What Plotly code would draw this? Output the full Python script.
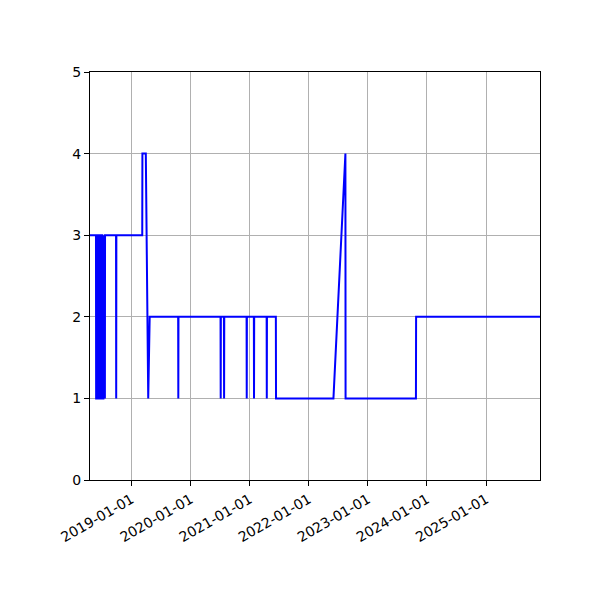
import plotly.graph_objects as go

# readings
dates = [
    "2018-04-19", "2018-05-26", "2018-05-27", "2018-06-02", "2018-06-03",
    "2018-06-08", "2018-06-09", "2018-06-15", "2018-06-16", "2018-06-21",
    "2018-06-22", "2018-06-28", "2018-06-29", "2018-07-04", "2018-07-05",
    "2018-07-11", "2018-07-12", "2018-07-20", "2018-07-21",
    "2018-09-27", "2018-09-28", "2018-09-29",
    "2019-03-08", "2019-03-09", "2019-03-30", "2019-04-14", "2019-04-23",
    "2019-10-16", "2019-10-17", "2019-10-18",
    "2020-07-04", "2020-07-05", "2020-07-06",
    "2020-07-25", "2020-07-26", "2020-07-27",
    "2020-12-12", "2020-12-13", "2020-12-14",
    "2021-01-26", "2021-01-27", "2021-01-28",
    "2021-04-15", "2021-04-16", "2021-04-17",
    "2021-06-11", "2021-06-12",
    "2022-06-02", "2022-08-15", "2022-08-16",
    "2023-10-25", "2023-10-26",
    "2025-11-30",
]
values = [
    3, 3, 1, 1, 3,
    3, 1, 1, 3, 3,
    1, 1, 3, 3, 1,
    1, 3, 1, 3,
    3, 1, 3,
    3, 4, 4, 1, 2,
    2, 1, 2,
    2, 1, 2,
    2, 1, 2,
    2, 1, 2,
    2, 1, 2,
    2, 1, 2,
    2, 1,
    1, 4, 1,
    1, 2,
    2,
]

tick_dates = ["2019-01-01", "2020-01-01", "2021-01-01", "2022-01-01",
              "2023-01-01", "2024-01-01", "2025-01-01"]
y_ticks = [0, 1, 2, 3, 4, 5]

fig = go.Figure(go.Scatter(x=dates, y=values, mode="lines",
                           line=dict(color="#0000ff", width=2)))

axis_style = dict(showline=True, linecolor="black", linewidth=1, mirror=True,
                  ticks="outside", ticklen=5, tickcolor="black",
                  showgrid=True, gridcolor="#b0b0b0", gridwidth=0.8,
                  zeroline=False)

fig.update_xaxes(range=[dates[0], dates[-1]], tickvals=tick_dates,
                 tickformat="%Y-%m-%d", tickangle=-30, **axis_style)
fig.update_yaxes(range=[0, 5], tickvals=y_ticks, **axis_style)

fig.update_layout(width=600, height=600, showlegend=False,
                  plot_bgcolor="white", paper_bgcolor="white",
                  margin=dict(l=82, r=68, t=64, b=128),
                  font=dict(family="DejaVu Sans", size=14, color="black"))

fig.write_html("out.html")
